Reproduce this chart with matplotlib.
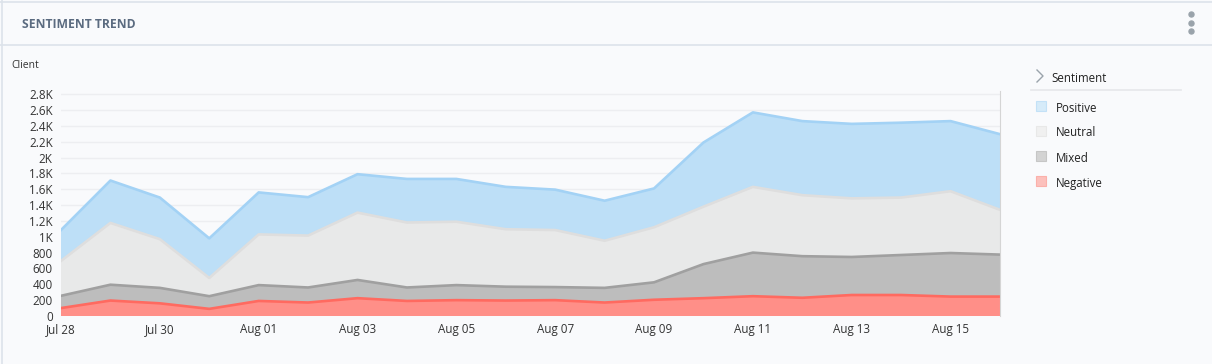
import numpy as np
import matplotlib.pyplot as plt
from matplotlib import patches
from matplotlib.ticker import FuncFormatter

plt.rcParams["font.family"] = ["Open Sans", "DejaVu Sans"]

dates = ["Jul 28", "Jul 29", "Jul 30", "Jul 31", "Aug 01", "Aug 02", "Aug 03", "Aug 04",
         "Aug 05", "Aug 06", "Aug 07", "Aug 08", "Aug 09", "Aug 10", "Aug 11", "Aug 12",
         "Aug 13", "Aug 14", "Aug 15", "Aug 16"]
negative = [100, 195, 160, 90, 190, 170, 225, 190, 200, 195, 200, 170, 205, 225, 250, 230, 265, 265, 245, 245]
mixed = [155, 200, 195, 160, 200, 190, 230, 170, 190, 175, 165, 185, 220, 430, 550, 525, 480, 505, 550, 530]
neutral = [440, 780, 615, 230, 640, 655, 850, 820, 800, 725, 720, 595, 695, 725, 830, 770, 740, 725, 780, 565]
positive = [390, 535, 525, 500, 530, 485, 485, 550, 540, 535, 510, 505, 490, 810, 940, 935, 940, 945, 885, 955]

series_names = ["Negative", "Mixed", "Neutral", "Positive"]
fill_colors = ["#ff8f88", "#bdbdbd", "#e8e9e9", "#bddff7"]
line_colors = ["#ff6a60", "#a0a0a0", "#dedede", "#a3d2f5"]
swatch_fill = ["#fcc0bc", "#d3d3d3", "#f0f0f0", "#d6ebf9"]
swatch_edge = ["#fbb0aa", "#c6c6c6", "#e8e8e8", "#c3e1f7"]

bg = "#f9fafc"
fig = plt.figure(figsize=(12.12, 3.64), dpi=100, facecolor=bg)
W, H = 1212, 364


def fx(px):
    return px / W


def fy(py):
    return 1 - py / H


# card frame / header
fig.add_artist(plt.Line2D([0, 1], [fy(45), fy(45)], transform=fig.transFigure, color="#dde3ea", lw=1.2))
fig.add_artist(plt.Line2D([0, 1], [fy(1.5), fy(1.5)], transform=fig.transFigure, color="#dde3ea", lw=1.2))
fig.add_artist(plt.Line2D([fx(1.5), fx(1.5)], [0, 1], transform=fig.transFigure, color="#dde3ea", lw=1.2))
fig.text(fx(22), fy(24), "SENTIMENT TREND", fontsize=8.7, fontweight="bold",
         color="#5b6b80", va="center", ha="left")
fig.add_artist(plt.Line2D([fx(1191)] * 3, [fy(14), fy(22.5), fy(31)], transform=fig.transFigure,
                          ls="none", marker="o", ms=3.6, color="#9aa3ab"))
fig.text(fx(11), fy(66), "Client", fontsize=7.5, color="#333333", va="center", ha="left")

# main axes
x0, x1, ybot, ytop = 61, 1000, 316, 91
ax = fig.add_axes([fx(x0), fy(ybot), fx(x1 - x0), (ybot - ytop) / H])
ax.set_facecolor(bg)
x = np.arange(len(dates))
cum = np.cumsum(np.vstack([negative, mixed, neutral, positive]).astype(float), axis=0)
lower = np.zeros(len(dates))
for i, name in enumerate(series_names):
    ax.fill_between(x, lower, cum[i], facecolor=fill_colors[i], edgecolor="none", zorder=2 + i * 0.1)
    ax.plot(x, cum[i], color=line_colors[i], lw=1.9, zorder=3 + i * 0.1)
    lower = cum[i]

ax.set_xlim(0, len(dates) - 1)
ax.set_ylim(0, 2840)
ax.set_yticks(np.arange(0, 2801, 200))
ax.yaxis.set_major_formatter(FuncFormatter(
    lambda v, p: "0" if v == 0 else (f"{v / 1000:g}K" if v >= 1000 else f"{int(v)}")))
ax.set_xticks(x[::2])
ax.set_xticklabels(dates[::2])
ax.tick_params(axis="both", length=0, labelsize=8.4, labelcolor="#333333")
ax.tick_params(axis="y", pad=6)
ax.tick_params(axis="x", pad=5)
ax.grid(axis="y", color="#e6e7ea", lw=1, zorder=5, alpha=0.6)
for s in ["top", "left", "bottom"]:
    ax.spines[s].set_visible(False)
ax.spines["right"].set_color("#d5d5d5")
ax.spines["right"].set_zorder(6)

# legend panel
fig.add_artist(plt.Line2D([fx(1037), fx(1043), fx(1037)], [fy(70), fy(76), fy(82)],
                          transform=fig.transFigure, color="#9aa3ab", lw=1.0))
fig.text(fx(1051), fy(78), "Sentiment", fontsize=8.3, color="#222222", va="center", ha="left")
fig.add_artist(plt.Line2D([fx(1031), fx(1181)], [fy(90), fy(90)], transform=fig.transFigure,
                          color="#e6e7ea", lw=1.2))
for k, idx in enumerate([3, 2, 1, 0]):
    yc = 106 + 25 * k
    fig.add_artist(patches.Rectangle((fx(1036), fy(yc + 5)), 10 / W, 10 / H,
                                     transform=fig.transFigure, facecolor=swatch_fill[idx],
                                     edgecolor=swatch_edge[idx], lw=0.8))
    fig.text(fx(1056), fy(yc + 2), series_names[idx], fontsize=8.3, color="#222222",
             va="center", ha="left")

fig.savefig("out.png", dpi=100, facecolor=bg)
